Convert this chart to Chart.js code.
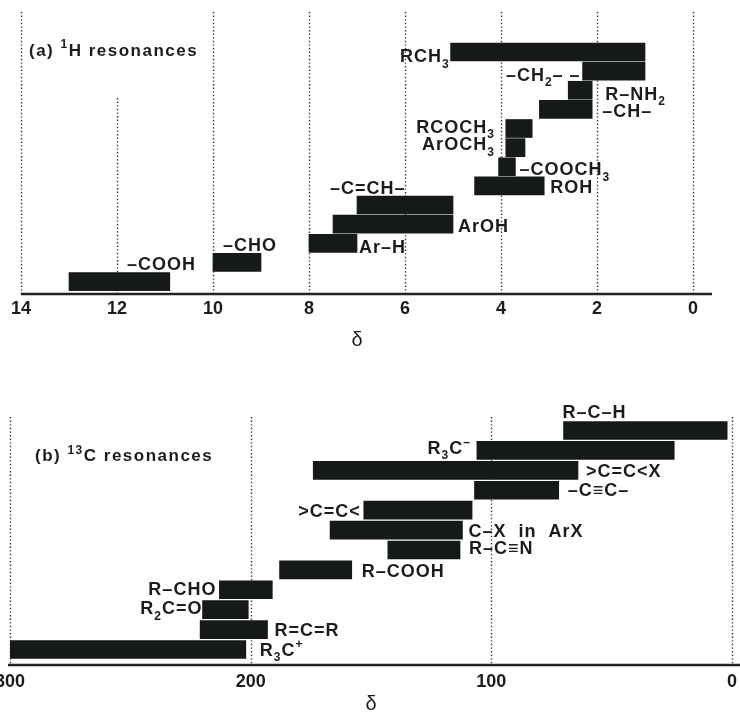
<!DOCTYPE html>
<html>
<head>
<meta charset="utf-8">
<script src="https://cdn.jsdelivr.net/npm/chart.js@4.4.1/dist/chart.umd.min.js"></script>
<style>
  html, body { margin: 0; padding: 0; background: #fff; overflow: hidden; width: 740px; height: 713px; }
  canvas { position: absolute; left: 0; }
  #protonChart { top: 0; }
  #carbonChart { top: 360px; }
</style>
</head>
<body>
<canvas id="protonChart" width="740" height="360"></canvas>
<canvas id="carbonChart" width="740" height="360"></canvas>
<script>
// group labels: "_x" = subscript char, "^x" = superscript char
// (a) 1H shift ranges in ppm, upper and lower end of each bar
const protonGroups = ["RCH_3", "–CH_2– –", "R–NH_2", "–CH–", "RCOCH_3", "ArOCH_3", "–COOCH_3", "ROH", "–C=CH–", "ArOH", "Ar–H", "–CHO", "–COOH"];
const protonHigh = [5.05, 2.3, 2.6, 3.2, 3.9, 3.9, 4.05, 4.55, 7.0, 7.5, 8.0, 10.0, 13.0];
const protonLow = [1.0, 1.0, 2.1, 2.1, 3.35, 3.5, 3.7, 3.1, 5.0, 5.0, 7.0, 9.0, 10.9];
const protonTicks = [14, 12, 10, 8, 6, 4, 2, 0];

// (b) 13C shift ranges in ppm
const carbonGroups = ["R–C–H", "R_3C^–", ">C=C<X", "–C≡C–", ">C=C<", "C–X  in  ArX", "R–C≡N", "R–COOH", "R–CHO", "R_2C=O", "R=C=R", "R_3C^+"];
const carbonHigh = [70, 106, 174, 107, 153, 167, 143, 188, 213, 220, 221, 300];
const carbonLow = [2, 24, 64, 72, 108, 112, 113, 158, 191, 201, 193, 202];
const carbonTicks = [300, 200, 100, 0];

// where each label sits: L = left of bar, R = right of bar, T = above bar
const protonSide = ["L", "L", "R", "R", "L", "L", "R", "R", "T", "R", "R", "T", "T"];
const protonGap = [1, 2, 13, 10, 11, 11, 4, 6, -27, 5, 2, 10, 58];
const protonShift = [4, 3, 3, 1, -2, -4, 2, 1, -18, 1.5, 3, -17.5, -18.5];
const carbonSide = ["T", "L", "R", "R", "L", "R", "R", "R", "L", "L", "R", "R"];
const carbonGap = [-1, 6, 8, 9, 3, 6, 9, 10, 3, 0, 7, 14];
const carbonShift = [-19, -3, 0, -1, 0, 0, -2, 1, -1.5, -2, 0, 0];

const FONT = '"Liberation Sans", Arial, sans-serif';
const INK = "#1c1c1c";
const BAR = "#161a17";

// draws a label with simple sub/superscripts, y is the cap-height centre
function drawRich(ctx, text, x, y, align, size, spacing) {
    const runs = [];
    for (let i = 0; i < text.length; i++) {
        const ch = text[i];
        if ((ch === "_" || ch === "^") && i + 1 < text.length) {
            runs.push({ t: text[i + 1], k: ch });
            i++;
        } else {
            const last = runs[runs.length - 1];
            if (last && last.k === "") last.t += ch;
            else runs.push({ t: ch, k: "" });
        }
    }
    const big = `bold ${size}px ${FONT}`;
    const small = `bold ${Math.round(size * 0.68)}px ${FONT}`;
    ctx.letterSpacing = spacing + "px";
    let w = 0;
    runs.forEach(r => {
        ctx.font = r.k ? small : big;
        r.w = ctx.measureText(r.t).width;
        w += r.w;
    });
    let cx = align === "right" ? x - w : x;
    ctx.textAlign = "left";
    ctx.textBaseline = "alphabetic";
    const base = y + size * 0.36;
    runs.forEach(r => {
        ctx.font = r.k ? small : big;
        const dy = r.k === "_" ? size * 0.3 : r.k === "^" ? -size * 0.42 : 0;
        ctx.fillText(r.t, cx, base + dy);
        cx += r.w;
    });
    ctx.letterSpacing = "0px";
}

// dotted guide lines, axis line, panel title and bar labels
const decor = {
    id: "decor",
    beforeDatasetsDraw(chart, args, opts) {
        const { ctx, chartArea } = chart;
        const xs = chart.scales.x;
        ctx.save();
        ctx.strokeStyle = "#3a3a3a";
        ctx.lineWidth = 1.4;
        ctx.setLineDash([1.4, 2.2]);
        opts.ticks.forEach(v => {
            const px = Math.round(xs.getPixelForValue(v)) + 0.5;
            const top = opts.shortLines && opts.shortLines[v] !== undefined ? opts.shortLines[v] : chartArea.top;
            ctx.beginPath();
            ctx.moveTo(px, top);
            ctx.lineTo(px, chartArea.bottom);
            ctx.stroke();
        });
        ctx.restore();
    },
    afterDatasetsDraw(chart, args, opts) {
        const { ctx, chartArea } = chart;
        ctx.save();
        // axis line
        ctx.strokeStyle = "#222";
        ctx.lineWidth = 2.5;
        ctx.beginPath();
        ctx.moveTo(chartArea.left - opts.axisExt[0], chartArea.bottom);
        ctx.lineTo(chartArea.right + opts.axisExt[1], chartArea.bottom);
        ctx.stroke();

        ctx.fillStyle = INK;
        drawRich(ctx, opts.title, opts.titlePos[0], opts.titlePos[1], "left", 17, 1.5);

        const meta = chart.getDatasetMeta(0);
        meta.data.forEach((bar, i) => {
            const left = Math.min(bar.x, bar.base);
            const right = Math.max(bar.x, bar.base);
            const side = opts.side[i];
            const y = bar.y + opts.shift[i];
            if (side === "L") drawRich(ctx, opts.labels[i], left - opts.gap[i], y, "right", 18, 1);
            else if (side === "R") drawRich(ctx, opts.labels[i], right + opts.gap[i], y, "left", 18, 1);
            else drawRich(ctx, opts.labels[i], left + opts.gap[i], y, "left", 18, 1);
        });
        ctx.restore();
    }
};

function makeChart(id, cfg) {
    const data = cfg.groups.map((g, i) => ({ x: [cfg.high[i], cfg.low[i]], y: i }));
    return new Chart(document.getElementById(id), {
        type: "bar",
        data: {
            datasets: [{
                data: data,
                backgroundColor: BAR,
                borderWidth: 0,
                borderSkipped: false,
                barThickness: 18
            }]
        },
        plugins: [decor],
        options: {
            indexAxis: "y",
            responsive: false,
            animation: false,
            events: [],
            layout: { padding: cfg.padding },
            scales: {
                x: {
                    type: "linear",
                    reverse: true,
                    min: cfg.min,
                    max: cfg.max,
                    afterBuildTicks: scale => {
                        scale.ticks = cfg.ticks.map(v => ({ value: v }));
                    },
                    afterFit: scale => {
                        scale.height = cfg.axisHeight;
                        scale.paddingLeft = 0;
                        scale.paddingRight = 0;
                    },
                    grid: { display: false, drawTicks: false },
                    border: { display: false },
                    ticks: {
                        padding: cfg.tickPad,
                        maxRotation: 0,
                        autoSkip: false,
                        color: INK,
                        font: { family: FONT, size: 18, weight: "bold" }
                    },
                    title: {
                        display: true,
                        text: "δ",
                        color: INK,
                        font: { family: FONT, size: 20, weight: "normal" },
                        padding: { top: 0, bottom: cfg.titlePad }
                    }
                },
                y: {
                    type: "linear",
                    display: false,
                    reverse: true,
                    offset: false,
                    grid: { offset: false },
                    min: cfg.rowMin,
                    max: cfg.rowMax
                }
            },
            plugins: {
                legend: { display: false },
                tooltip: { enabled: false },
                decor: {
                    ticks: cfg.ticks,
                    shortLines: cfg.shortLines,
                    axisExt: cfg.axisExt,
                    title: cfg.title,
                    titlePos: cfg.titlePos,
                    labels: cfg.groups,
                    side: cfg.side,
                    gap: cfg.gap,
                    shift: cfg.shift
                }
            }
        }
    });
}

makeChart("protonChart", {
    groups: protonGroups, high: protonHigh, low: protonLow, ticks: protonTicks,
    min: 0, max: 14, rowMin: -2.09, rowMax: 12.65,
    padding: { left: 21, right: 47, top: 12, bottom: 0 },
    axisHeight: 66, tickPad: 4, titlePad: 8,
    shortLines: { 12: 98 }, axisExt: [0, 19],
    title: "(a) ^1H resonances", titlePos: [29, 49.5],
    side: protonSide, gap: protonGap, shift: protonShift
});

makeChart("carbonChart", {
    groups: carbonGroups, high: carbonHigh, low: carbonLow, ticks: carbonTicks,
    min: 0, max: 300, rowMin: -0.68, rowMax: 11.78,
    padding: { left: 10, right: 8, top: 57, bottom: 0 },
    axisHeight: 55, tickPad: 6, titlePad: 4,
    shortLines: null, axisExt: [2, 8],
    title: "(b) ^1^3C resonances", titlePos: [35, 95],
    side: carbonSide, gap: carbonGap, shift: carbonShift
});
</script>
</body>
</html>
